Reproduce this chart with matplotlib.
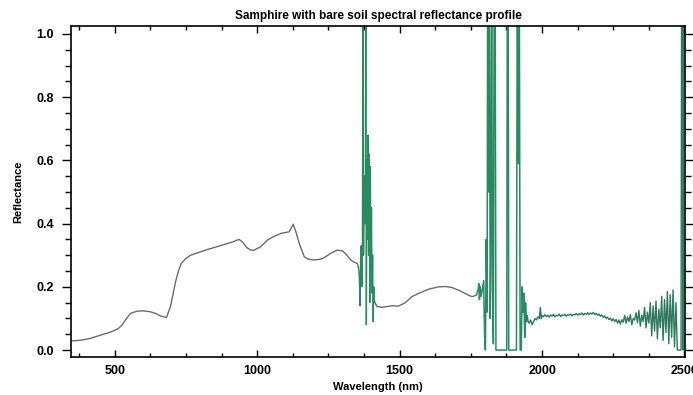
import numpy as np
import matplotlib
matplotlib.use('Agg')
import matplotlib.pyplot as plt
from matplotlib.ticker import MultipleLocator

# smooth part of the spectrum
wl_smooth = [350, 380, 414, 449, 475, 496, 512, 525, 540, 555, 578, 600, 625, 645, 660, 681,
             695, 705, 713, 723, 733, 750, 766, 795, 825, 855, 884, 910, 936, 950, 962, 977,
             989, 1012, 1036, 1060, 1083, 1112, 1126, 1137, 1147, 1165, 1180, 1200, 1220,
             1235, 1256, 1280, 1299, 1315, 1328, 1340, 1351]
r_smooth = [0.029, 0.031, 0.037, 0.047, 0.054, 0.061, 0.068, 0.079, 0.099, 0.116, 0.123, 0.124,
            0.121, 0.115, 0.108, 0.103, 0.137, 0.180, 0.216, 0.250, 0.274, 0.290, 0.300, 0.309,
            0.318, 0.326, 0.334, 0.341, 0.350, 0.340, 0.325, 0.316, 0.316, 0.327, 0.348, 0.360,
            0.369, 0.374, 0.398, 0.370, 0.338, 0.295, 0.287, 0.285, 0.287, 0.292, 0.305, 0.316,
            0.314, 0.300, 0.285, 0.278, 0.274]

# first water band (noisy)
wl_band1 = [1355, 1357, 1359, 1361, 1363, 1365, 1367, 1369, 1371, 1373, 1375, 1377, 1379, 1381,
            1383, 1385, 1387, 1389, 1391, 1393, 1395, 1397, 1399, 1401, 1403, 1405, 1407, 1409,
            1411, 1413, 1416]
r_band1 = [0.262, 0.250, 0.210, 0.140, 0.290, 0.330, 0.200, 0.260, 1.100, 0.300, 0.450, 0.550,
           0.400, 1.100, 0.080, 0.600, 0.350, 0.680, 0.300, 0.620, 0.150, 0.580, 0.250, 0.450,
           0.180, 0.300, 0.090, 0.200, 0.160, 0.150, 0.145]

# smooth part between the water bands
wl_mid = [1420, 1438, 1473, 1496, 1520, 1543, 1566, 1600, 1636, 1660, 1683, 1710, 1730,
          1745, 1755, 1765]
r_mid = [0.138, 0.135, 0.140, 0.139, 0.150, 0.169, 0.179, 0.192, 0.200, 0.201, 0.198, 0.188,
         0.179, 0.172, 0.169, 0.172]

# second water band (noisy, clipped)
wl_band2 = [1770, 1775, 1778, 1780, 1783, 1786, 1790, 1795, 1798, 1801, 1804, 1807, 1809, 1811,
            1813, 1815, 1818, 1820, 1823, 1826, 1829, 1832, 1835, 1838, 1840, 1860, 1876, 1878,
            1881, 1883, 1910, 1913, 1917, 1920, 1923, 1927, 1930, 1933, 1936, 1939, 1942, 1945]
r_band2 = [0.175, 0.190, 0.210, 0.160, 0.200, 0.170, 0.190, 0.220, 0.050, 0.000, 0.350, 0.120,
           1.200, 1.200, 0.500, 1.200, 0.100, 0.300, 1.200, 0.200, 0.020, 1.200, 1.200, 0.000,
           0.000, 0.000, 0.000, 1.200, 1.200, 0.000, 0.000, 1.200, 0.590, 1.200, 0.000, 0.000,
           0.200, 0.120, 0.180, 0.040, 0.150, 0.090]

# SWIR tail
wl_tail = [1948, 1951, 1955, 1960, 1965, 1970, 1975, 1980, 1985, 1990, 1994, 1997, 2000, 2005,
           2010, 2015, 2020, 2025, 2030, 2035, 2040, 2045, 2050, 2055, 2060, 2065, 2070, 2075,
           2080, 2085, 2090, 2095, 2100, 2105, 2110, 2115, 2120, 2125, 2130, 2135, 2140, 2145,
           2150, 2155, 2160, 2165, 2170, 2175, 2180, 2185, 2190, 2195, 2200, 2205, 2210, 2215,
           2220, 2225, 2230, 2235, 2240, 2245, 2250, 2255, 2260, 2265, 2270, 2275, 2280, 2285,
           2290, 2295, 2300, 2305, 2310, 2315, 2320, 2325, 2330, 2335, 2340, 2345, 2350, 2355,
           2360, 2365, 2370, 2375, 2380, 2385, 2390, 2395, 2400, 2405, 2410, 2415, 2420, 2425,
           2430, 2435, 2440, 2445, 2450, 2455, 2460, 2465, 2470, 2475, 2488, 2490, 2493, 2495,
           2497, 2500]
r_tail = [0.110, 0.090, 0.085, 0.095, 0.080, 0.090, 0.100, 0.095, 0.105, 0.100, 0.135, 0.100,
          0.110, 0.105, 0.112, 0.106, 0.110, 0.104, 0.111, 0.107, 0.113, 0.105, 0.110, 0.108,
          0.114, 0.106, 0.111, 0.109, 0.113, 0.107, 0.112, 0.110, 0.114, 0.108, 0.113, 0.111,
          0.116, 0.110, 0.115, 0.112, 0.117, 0.111, 0.116, 0.113, 0.118, 0.112, 0.117, 0.114,
          0.119, 0.112, 0.116, 0.110, 0.114, 0.107, 0.111, 0.103, 0.108, 0.100, 0.104, 0.096,
          0.101, 0.092, 0.099, 0.090, 0.097, 0.085, 0.095, 0.082, 0.096, 0.088, 0.110, 0.085,
          0.105, 0.090, 0.112, 0.080, 0.100, 0.095, 0.118, 0.086, 0.125, 0.075, 0.110, 0.090,
          0.135, 0.070, 0.120, 0.085, 0.150, 0.045, 0.140, 0.060, 0.155, 0.035, 0.130, 0.070,
          0.170, 0.030, 0.160, 0.055, 0.185, 0.020, 0.175, 0.040, 0.190, 0.010, 0.150, 0.000,
          0.000, 1.200, 1.200, 0.000, 1.200, 1.200]

gray = '#6b6b6b'
green = '#2a8a62'

fig = plt.figure(figsize=(6.93, 3.95), dpi=100)
ax = fig.add_axes([0.1025, 0.0962, 0.886, 0.838])

ax.plot(wl_smooth + [1355], r_smooth + [0.262], color=gray, lw=1.0)
ax.plot(wl_band1, r_band1, color=green, lw=1.0)
ax.plot([1416] + wl_mid + [1770], [0.145] + r_mid + [0.175], color=gray, lw=1.0)
ax.plot(wl_band2, r_band2, color=green, lw=1.1)
ax.plot([1945] + wl_tail, [0.090] + r_tail, color='#2f7a5e', lw=1.0)

ax.set_xlim(346, 2502)
ax.set_ylim(-0.022, 1.025)

ax.xaxis.set_major_locator(MultipleLocator(500))
ax.xaxis.set_minor_locator(MultipleLocator(125))
ax.yaxis.set_major_locator(MultipleLocator(0.2))
ax.yaxis.set_minor_locator(MultipleLocator(0.05))
ax.yaxis.set_major_formatter(plt.FuncFormatter(lambda v, p: f'{v:.1f}'))

ax.tick_params(axis='x', which='both', direction='in', top=True, bottom=True, width=1.0,
               labelsize=9, pad=6)
ax.tick_params(axis='x', which='major', length=5)
ax.tick_params(axis='x', which='minor', length=3)
ax.tick_params(axis='y', which='both', direction='out', left=True, right=True, width=1.0,
               labelsize=9, pad=6)
ax.tick_params(axis='y', which='major', length=6.5)
ax.tick_params(axis='y', which='minor', length=4.3)
for lab in ax.get_xticklabels() + ax.get_yticklabels():
    lab.set_fontweight('bold')
    lab.set_family('Liberation Sans')

for s in ax.spines.values():
    s.set_linewidth(1.2)

ax.set_xlabel('Wavelength (nm)', fontsize=8, family='Liberation Sans', fontweight='bold',
              labelpad=3)
ax.set_ylabel('Reflectance', fontsize=8, family='Liberation Sans', fontweight='bold',
              labelpad=9)
ax.set_title('Samphire with bare soil spectral reflectance profile', fontsize=8.5,
             family='Liberation Sans', fontweight='bold', pad=5)

fig.savefig('out.png', dpi=100)
